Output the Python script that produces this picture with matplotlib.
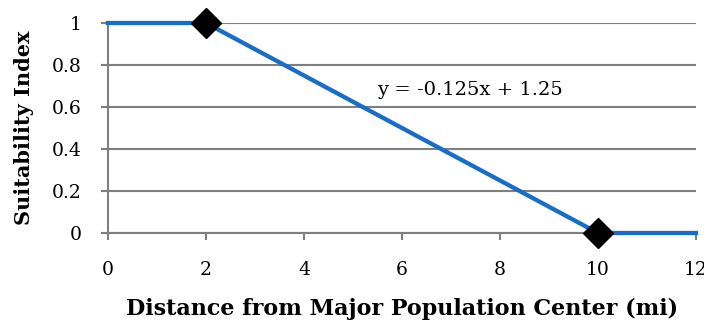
"""Suitability index vs distance from major population center."""

import matplotlib
matplotlib.use('Agg')
import matplotlib.pyplot as plt

# Data
distance = [0, 2, 10, 12]
suitability = [1, 1, 0, 0]
marker_x = [2, 10]
marker_y = [1, 0]
x_ticks = [0, 2, 4, 6, 8, 10, 12]
y_ticks = [0, 0.2, 0.4, 0.6, 0.8, 1]
y_tick_labels = ['0', '0.2', '0.4', '0.6', '0.8', '1']
equation = 'y = -0.125x + 1.25'

plt.rcParams['font.family'] = ['DejaVu Serif']

fig = plt.figure(figsize=(7.04, 3.24), dpi=100)
ax = fig.add_axes([0.1534, 0.2809, 0.8352, 0.6481])

grid_color = '#7f7f7f'
ax.plot(distance, suitability, color='#1a6dc6', linewidth=3.1, zorder=3,
        solid_joinstyle='miter', clip_on=False)
ax.plot(marker_x, marker_y, linestyle='none', marker='D', markersize=15,
        color='black', zorder=4, clip_on=False)

ax.set_xlim(0, 12)
ax.set_ylim(0, 1)
ax.set_xticks(x_ticks)
ax.set_yticks(y_ticks)
ax.set_yticklabels(y_tick_labels)
ax.tick_params(axis='both', labelsize=13.5, color=grid_color, length=5, width=1.5)
ax.tick_params(axis='x', pad=15)
ax.tick_params(axis='y', pad=14)

ax.grid(True, axis='y', color=grid_color, linewidth=1.5, zorder=1)
for side in ['top', 'right']:
    ax.spines[side].set_visible(False)
for side in ['left', 'bottom']:
    ax.spines[side].set_color(grid_color)
    ax.spines[side].set_linewidth(1.5)

ax.text(5.5, 0.68, equation, fontsize=14, va='center', ha='left')

ax.set_xlabel('Distance from Major Population Center (mi)', fontsize=16,
              fontweight='bold', labelpad=14)
ax.set_ylabel('Suitability Index', fontsize=15, fontweight='bold', labelpad=13)

plt.savefig('out.png', dpi=100)
plt.close()
